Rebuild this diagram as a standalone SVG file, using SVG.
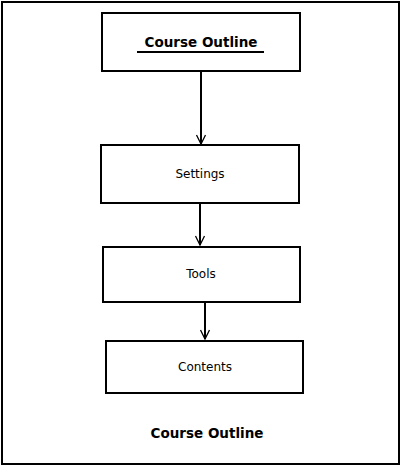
<svg xmlns="http://www.w3.org/2000/svg" width="402" height="467" viewBox="0 0 402 467">
<style>
.box{fill:#fff;stroke:#000;stroke-width:2}
.lbl{font-family:"DejaVu Sans",Verdana,sans-serif;font-size:12px;fill:#000;text-anchor:middle}
.ttl{font-family:"DejaVu Sans",Verdana,sans-serif;font-size:13.5px;font-weight:bold;fill:#000;text-anchor:middle}
.ln{stroke:#000;stroke-width:2;fill:none}
.head{stroke:#000;stroke-width:1.3;fill:none}
</style>
<rect x="0" y="0" width="402" height="467" fill="#fff"/>
<rect x="2" y="2" width="397" height="462" fill="none" stroke="#000" stroke-width="2"/>
<g id="connectors">
<line class="ln" x1="201" y1="71" x2="201" y2="144"/>
<polyline class="head" points="196.5,135 201,144 205.5,135"/>
<line class="ln" x1="200" y1="203" x2="200" y2="245"/>
<polyline class="head" points="195.5,236 200,245 204.5,236"/>
<line class="ln" x1="205" y1="302" x2="205" y2="339"/>
<polyline class="head" points="200.5,330 205,339 209.5,330"/>
</g>
<g id="node-course-outline">
<rect class="box" x="102" y="13" width="198" height="58"/>
<text class="ttl" x="201" y="47">Course Outline</text>
<line x1="137" y1="52" x2="264" y2="52" stroke="#000" stroke-width="2"/>
</g>
<g id="node-settings">
<rect class="box" x="101" y="145" width="198" height="58"/>
<text class="lbl" x="200" y="178">Settings</text>
</g>
<g id="node-tools">
<rect class="box" x="103" y="247" width="197" height="55"/>
<text class="lbl" x="201" y="278">Tools</text>
</g>
<g id="node-contents">
<rect class="box" x="106" y="341" width="197" height="52"/>
<text class="lbl" x="205" y="371">Contents</text>
</g>
<text class="ttl" x="207" y="438">Course Outline</text>
</svg>
